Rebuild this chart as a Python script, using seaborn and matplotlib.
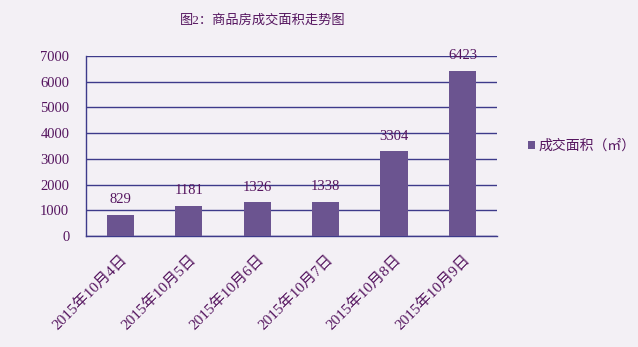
import numpy as np
import matplotlib
matplotlib.use("Agg")
import matplotlib.pyplot as plt
import seaborn as sns
import pandas as pd

# data
dates = ["2015年10月4日", "2015年10月5日", "2015年10月6日",
         "2015年10月7日", "2015年10月8日", "2015年10月9日"]
area = [829, 1181, 1326, 1338, 3304, 6423]
series_name = "成交面积（㎡）"
title = "图2：商品房成交面积走势图"
y_ticks = [0, 1000, 2000, 3000, 4000, 5000, 6000, 7000]

bg = "#F3F0F5"
bar_color = "#6B5490"
grid_color = "#3D3A8A"
text_color = "#55155F"

sns.set_theme(style="white")
plt.rcParams["font.family"] = ["Liberation Serif", "Noto Sans CJK SC", "DejaVu Sans"]

df = pd.DataFrame({"date": dates, "area": area, "series": series_name})

fig = plt.figure(figsize=(6.38, 3.47), dpi=100, facecolor=bg)
ax = fig.add_axes([0.1348, 0.320, 0.644, 0.519])
ax.set_facecolor(bg)

sns.barplot(data=df, x="date", y="area", hue="series", palette=[bar_color],
            width=0.4, ax=ax, saturation=1, zorder=3, linewidth=0)

ax.set_ylim(0, 7000)
ax.set_xlim(-0.5, 5.5)
ax.set_yticks(y_ticks)
ax.yaxis.grid(True, color=grid_color, linewidth=1.0, zorder=1)
ax.xaxis.grid(False)
for s in ["top", "right"]:
    ax.spines[s].set_visible(False)
for s in ["left", "bottom"]:
    ax.spines[s].set_color(grid_color)
    ax.spines[s].set_linewidth(1.0)

ax.set_xlabel("")
ax.set_ylabel("")
ax.tick_params(axis="y", length=0, pad=12, labelsize=10.5, labelcolor=text_color)
ax.tick_params(axis="x", which="major", length=0, pad=12, labelsize=11, labelcolor=text_color)
ax.set_xticks(np.arange(-0.5, 6, 1), minor=True)
ax.tick_params(axis="x", which="minor", direction="in", length=4, color=grid_color, width=1)
plt.setp(ax.get_xticklabels(), rotation=45, ha="right", rotation_mode="anchor")

# value labels above bars
for i, v in enumerate(area):
    ax.annotate(str(v), (i, v), xytext=(0, 6), textcoords="offset points",
                ha="center", va="bottom", fontsize=10.5, color=text_color, zorder=4)

fig.text(263 / 638, 1 - 20 / 347, title, ha="center", va="center",
         fontsize=9.5, color=text_color)

handles, labels = ax.get_legend_handles_labels()
leg = ax.legend(handles, labels, loc="center left", bbox_to_anchor=(1.045, 0.5),
                frameon=False, handlelength=0.5, handleheight=0.5, handletextpad=0.25,
                fontsize=10)
for t in leg.get_texts():
    t.set_color(text_color)

fig.savefig("out.png", dpi=100, facecolor=bg)
